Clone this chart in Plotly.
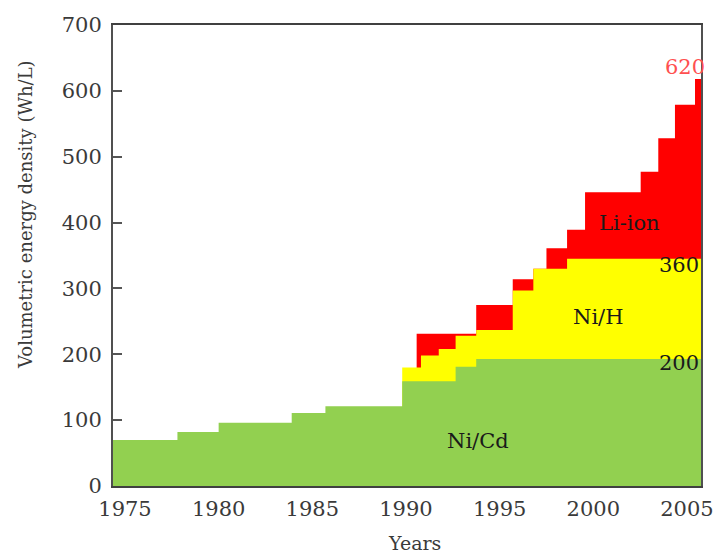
import plotly.graph_objects as go

# Step breakpoints (year where each level starts) and level values (Wh/L)
nicd_years = [1974.36, 1977.8, 1980.0, 1983.9, 1985.7, 1989.8, 1992.65, 1993.75, 2005.75]
nicd_values = [70, 82, 96, 111, 121, 159, 181, 193, 193]

nih_years = [1989.8, 1990.8, 1991.75, 1992.65, 1993.75, 1995.7, 1996.8, 1998.6, 2005.75]
nih_values = [180, 198, 208, 228, 237, 297, 330, 345, 345]

liion_years = [1990.57, 1993.75, 1995.7, 1996.8, 1997.5, 1998.6, 1999.56, 2002.53, 2003.47, 2004.36, 2005.43, 2005.75]
liion_values = [231, 275, 314, 330, 361, 389, 446, 477, 528, 579, 618, 618]

x_ticks = [1975, 1980, 1985, 1990, 1995, 2000, 2005]
y_ticks = [0, 100, 200, 300, 400, 500, 600, 700]

FONT = "DejaVu Serif"
TXT = "#3a3a3a"

fig = go.Figure()
for xs, ys, col, name in [
    (liion_years, liion_values, "#FF0000", "Li-ion"),
    (nih_years, nih_values, "#FFFF00", "Ni/H"),
    (nicd_years, nicd_values, "#92D050", "Ni/Cd"),
]:
    fig.add_trace(go.Scatter(
        x=xs, y=ys, mode="lines", line=dict(shape="hv", width=0, color=col),
        fill="tozeroy", fillcolor=col, name=name, showlegend=False,
        hoverinfo="skip",
    ))

annos = [
    dict(x=1993.85, y=68, text="Ni/Cd", color="#1a1a1a"),
    dict(x=2000.25, y=256, text="Ni/H", color="#1a1a1a"),
    dict(x=2001.95, y=399, text="Li-ion", color="#1a1a1a"),
    dict(x=2004.6, y=336, text="360", color="#1a1a1a"),
    dict(x=2004.6, y=187, text="200", color="#1a1a1a"),
    dict(x=2004.9, y=636, text="620", color="#FF5050"),
]
for a in annos:
    fig.add_annotation(x=a["x"], y=a["y"], xref="x", yref="y", text=a["text"],
                       showarrow=False, font=dict(family=FONT, size=21, color=a["color"]))

fig.add_annotation(x=-0.1497, y=0.59, xref="paper", yref="paper", xanchor="center", yanchor="middle",
                   text="Volumetric energy density (Wh/L)", textangle=-90,
                   showarrow=False, font=dict(family=FONT, size=18, color=TXT))
fig.add_annotation(x=0.512, y=-0.1235, xref="paper", yref="paper", xanchor="center", yanchor="middle",
                   text="Years", showarrow=False, font=dict(family=FONT, size=19, color=TXT))

fig.update_layout(
    width=714, height=556,
    margin=dict(l=113, r=13, t=25, b=70, autoexpand=False),
    paper_bgcolor="white", plot_bgcolor="white",
    font=dict(family=FONT, size=21, color=TXT),
    xaxis=dict(
        range=[1974.36, 2005.75], tickvals=x_ticks, ticks="",
        showgrid=False, zeroline=False, automargin=False,
        showline=True, linecolor="#404040", linewidth=2, mirror=True,
        tickfont=dict(family=FONT, size=21, color=TXT),
        ticklabelstandoff=3,
    ),
    yaxis=dict(
        range=[0, 700], tickvals=y_ticks, ticks="inside", ticklen=9,
        tickcolor="#555555", tickwidth=2,
        showgrid=False, zeroline=False, automargin=False,
        showline=True, linecolor="#505050", linewidth=2, mirror=True,
        tickfont=dict(family=FONT, size=21, color=TXT),
        ticklabelstandoff=5,
    ),
)

fig.write_html("out.html", config={"displayModeBar": False},
               post_script="document.body.style.margin='0';document.body.style.overflow='hidden';")
